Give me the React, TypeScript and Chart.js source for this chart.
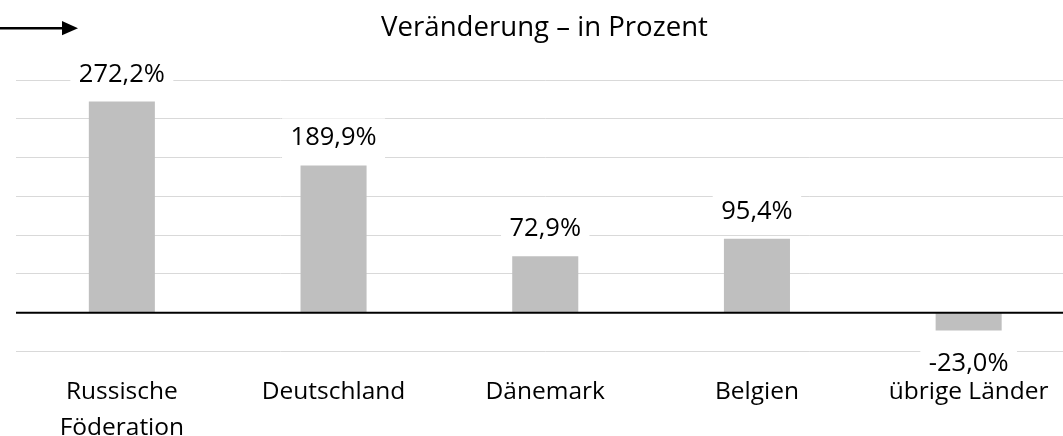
import React, { useEffect, useRef } from "react";
import { Chart, registerables } from "chart.js";

Chart.register(...registerables);

const categories: (string | string[])[] = [
  ["Russische", "Föderation"],
  "Deutschland",
  "Dänemark",
  "Belgien",
  "übrige Länder",
];
const values = [272.2, 189.9, 72.9, 95.4, -23.0];
const valueLabels = ["272,2%", "189,9%", "72,9%", "95,4%", "-23,0%"];
const yMin = -50;
const yMax = 300;
const yStep = 50;
const titleText = "Veränderung – in Prozent";

const FONT = '"Open Sans", "Noto Sans", sans-serif';

const decorPlugin = {
  id: "decor",
  afterDraw(chart: any) {
    const ctx = chart.ctx;
    ctx.save();
    // arrow
    ctx.strokeStyle = "#000";
    ctx.fillStyle = "#000";
    ctx.lineWidth = 2.5;
    ctx.beginPath();
    ctx.moveTo(0, 28.3);
    ctx.lineTo(64, 28.3);
    ctx.stroke();
    ctx.beginPath();
    ctx.moveTo(62, 21);
    ctx.lineTo(78, 28.3);
    ctx.lineTo(62, 35.3);
    ctx.closePath();
    ctx.fill();
    // title
    ctx.font = `27.6px ${FONT}`;
    ctx.textAlign = "center";
    ctx.textBaseline = "alphabetic";
    ctx.fillText(titleText, 544.5, 36);
    ctx.restore();
  },
  afterDatasetsDraw(chart: any) {
    const ctx = chart.ctx;
    const area = chart.chartArea;
    const yScale = chart.scales.y;
    const y0 = yScale.getPixelForValue(0);
    ctx.save();
    ctx.strokeStyle = "#000";
    ctx.lineWidth = 2;
    ctx.beginPath();
    ctx.moveTo(area.left, y0);
    ctx.lineTo(area.right, y0);
    ctx.stroke();

    const meta = chart.getDatasetMeta(0);
    ctx.font = `25.5px ${FONT}`;
    ctx.textAlign = "center";
    ctx.textBaseline = "alphabetic";
    meta.data.forEach((bar: any, i: number) => {
      const v = values[i];
      const { x, y } = bar.getProps(["x", "y"], true);
      const label = valueLabels[i];
      const w = ctx.measureText(label).width;
      let baseline: number, top: number, bottom: number;
      if (v >= 0) {
        baseline = y - 20;
        top = baseline - 27;
        bottom = baseline + 14;
      } else {
        baseline = y + 40.7;
        top = baseline - 27;
        bottom = baseline + 7;
      }
      ctx.fillStyle = "#fff";
      ctx.fillRect(x - w / 2 - 8.5, top, w + 17, bottom - top);
      ctx.fillStyle = "#000";
      ctx.fillText(label, x, baseline);
    });
    ctx.restore();
  },
};

export default function App() {
  const canvasRef = useRef<HTMLCanvasElement | null>(null);

  useEffect(() => {
    if (!canvasRef.current) return;
    const chart = new Chart(canvasRef.current, {
      type: "bar",
      data: {
        labels: categories,
        datasets: [
          {
            data: values,
            backgroundColor: "#bfbfbf",
            borderWidth: 0,
            categoryPercentage: 1,
            barPercentage: 0.312,
          },
        ],
      },
      options: {
        animation: false,
        responsive: true,
        maintainAspectRatio: false,
        devicePixelRatio: 1,
        layout: { padding: { top: 80, left: 16, right: 5.5, bottom: 0 } },
        plugins: {
          legend: { display: false },
          title: { display: false },
          tooltip: { enabled: false },
        },
        scales: {
          x: {
            grid: { display: false, drawTicks: false },
            border: { display: false },
            ticks: {
              color: "#000",
              padding: 23,
              maxRotation: 0,
              autoSkip: false,
              font: { family: FONT, size: 24.5, lineHeight: 1.46 },
            },
          },
          y: {
            min: yMin,
            max: yMax,
            border: { display: false },
            grid: { color: "#d9d9d9", lineWidth: 1, drawTicks: false },
            ticks: { display: false, stepSize: yStep },
          },
        },
      },
      plugins: [decorPlugin],
    });
    return () => chart.destroy();
  }, []);

  return (
    <div
      style={{
        position: "fixed",
        left: 0,
        top: 0,
        width: 1063,
        height: 436,
        overflow: "hidden",
        background: "#fff",
      }}
    >
      <div style={{ position: "relative", width: 1080, height: 469 }}>
        <canvas ref={canvasRef} />
      </div>
    </div>
  );
}
